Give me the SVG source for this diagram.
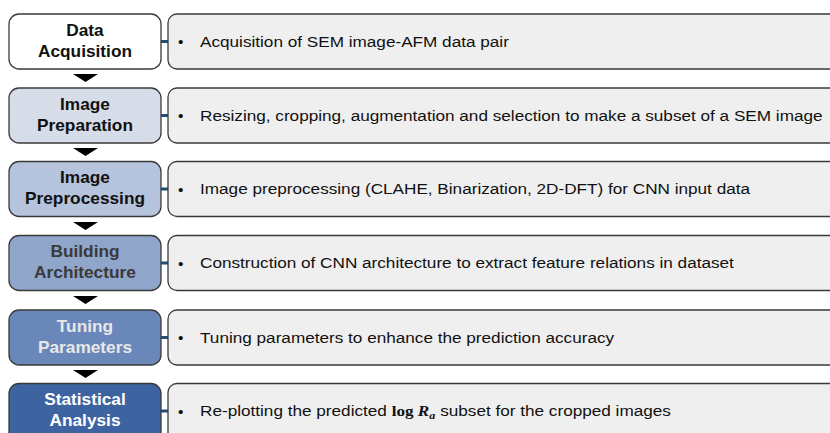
<svg xmlns="http://www.w3.org/2000/svg" width="830" height="433" viewBox="0 0 830 433">
<defs>
<style>
.step{stroke:#3a3a3a;stroke-width:1.3}
.desc{fill:#efefef;stroke:#3a3a3a;stroke-width:1.3}
.lt{font-family:"Liberation Sans",Arial,sans-serif;font-weight:bold;font-size:16px;text-anchor:middle}
.dt{font-family:"Liberation Sans",Arial,sans-serif;font-size:15.5px;fill:#111}
.stub{stroke:#1f4e79;stroke-width:3}
.tri{fill:#000}
</style>
</defs>
<rect width="830" height="433" fill="#fff"/>
<g id="connectors">
<line class="stub" x1="161" y1="41.5" x2="168" y2="41.5"/>
<line class="stub" x1="161" y1="115.5" x2="168" y2="115.5"/>
<line class="stub" x1="161" y1="189" x2="168" y2="189"/>
<line class="stub" x1="161" y1="263" x2="168" y2="263"/>
<line class="stub" x1="161" y1="337.5" x2="168" y2="337.5"/>
<line class="stub" x1="161" y1="411" x2="168" y2="411"/>
<polygon class="tri" points="73,74 98,74 85.5,82"/>
<polygon class="tri" points="73,148 98,148 85.5,156"/>
<polygon class="tri" points="73,222 98,222 85.5,230"/>
<polygon class="tri" points="73,296 98,296 85.5,304"/>
<polygon class="tri" points="73,370 98,370 85.5,378"/>
</g>
<g id="step1">
<rect class="step" x="9" y="14" width="152" height="55" rx="10" fill="#ffffff"/>
<g transform="matrix(1.08,0,0,1,-6.8,0)">
<text class="lt" x="85" y="36" fill="#111">Data</text>
<text class="lt" x="85" y="57" fill="#111">Acquisition</text>
</g>
</g>
<g id="desc1">
<rect class="desc" x="168" y="14" width="680" height="55" rx="9"/>
<text class="dt" x="178" y="47">•</text>
<text class="dt" x="200" y="47" transform="matrix(1.107,0,0,1,-21.4,0)">Acquisition of SEM image-AFM data pair</text>
</g>
<g id="step2">
<rect class="step" x="9" y="88" width="152" height="55" rx="10" fill="#d6dde9"/>
<g transform="matrix(1.08,0,0,1,-6.8,0)">
<text class="lt" x="85" y="110" fill="#111">Image</text>
<text class="lt" x="85" y="131" fill="#111">Preparation</text>
</g>
</g>
<g id="desc2">
<rect class="desc" x="168" y="88" width="680" height="55" rx="9"/>
<text class="dt" x="178" y="121">•</text>
<text class="dt" x="200" y="121" transform="matrix(1.107,0,0,1,-21.4,0)">Resizing, cropping, augmentation and selection to make a subset of a SEM image</text>
</g>
<g id="step3">
<rect class="step" x="9" y="161.5" width="152" height="55" rx="10" fill="#b5c3dc"/>
<g transform="matrix(1.08,0,0,1,-6.8,0)">
<text class="lt" x="85" y="183.5" fill="#111">Image</text>
<text class="lt" x="85" y="204.5" fill="#111">Preprocessing</text>
</g>
</g>
<g id="desc3">
<rect class="desc" x="168" y="161.5" width="680" height="55" rx="9"/>
<text class="dt" x="178" y="194.5">•</text>
<text class="dt" x="200" y="194.5" transform="matrix(1.107,0,0,1,-21.4,0)">Image preprocessing (CLAHE, Binarization, 2D-DFT) for CNN input data</text>
</g>
<g id="step4">
<rect class="step" x="9" y="235.5" width="152" height="55" rx="10" fill="#8fa5ca"/>
<g transform="matrix(1.08,0,0,1,-6.8,0)">
<text class="lt" x="85" y="257.5" fill="#3a3a3a">Building</text>
<text class="lt" x="85" y="278.5" fill="#3a3a3a">Architecture</text>
</g>
</g>
<g id="desc4">
<rect class="desc" x="168" y="235.5" width="680" height="55" rx="9"/>
<text class="dt" x="178" y="268.5">•</text>
<text class="dt" x="200" y="268.5" transform="matrix(1.107,0,0,1,-21.4,0)">Construction of CNN architecture to extract feature relations in dataset</text>
</g>
<g id="step5">
<rect class="step" x="9" y="310" width="152" height="55" rx="10" fill="#6a87b9"/>
<g transform="matrix(1.08,0,0,1,-6.8,0)">
<text class="lt" x="85" y="332" fill="#e8e8e8">Tuning</text>
<text class="lt" x="85" y="353" fill="#e8e8e8">Parameters</text>
</g>
</g>
<g id="desc5">
<rect class="desc" x="168" y="310" width="680" height="55" rx="9"/>
<text class="dt" x="178" y="343">•</text>
<text class="dt" x="200" y="343" transform="matrix(1.107,0,0,1,-21.4,0)">Tuning parameters to enhance the prediction accuracy</text>
</g>
<g id="step6">
<rect class="step" x="9" y="383.5" width="152" height="60" rx="10" fill="#3e63a1"/>
<g transform="matrix(1.08,0,0,1,-6.8,0)">
<text class="lt" x="85" y="405.5" fill="#ffffff">Statistical</text>
<text class="lt" x="85" y="426.5" fill="#ffffff">Analysis</text>
</g>
</g>
<g id="desc6">
<rect class="desc" x="168" y="383.5" width="680" height="60" rx="9"/>
<text class="dt" x="178" y="416.5">•</text>
<text class="dt" x="200" y="416.5" transform="matrix(1.107,0,0,1,-21.4,0)">Re-plotting the predicted <tspan font-family="'Liberation Serif',serif" font-weight="bold">log </tspan><tspan font-family="'Liberation Serif',serif" font-weight="bold" font-style="italic">R</tspan><tspan font-family="'Liberation Serif',serif" font-weight="bold" font-style="italic" font-size="11px" dy="3">a</tspan><tspan dy="-3"> subset for the cropped images</tspan></text>
</g>
</svg>
